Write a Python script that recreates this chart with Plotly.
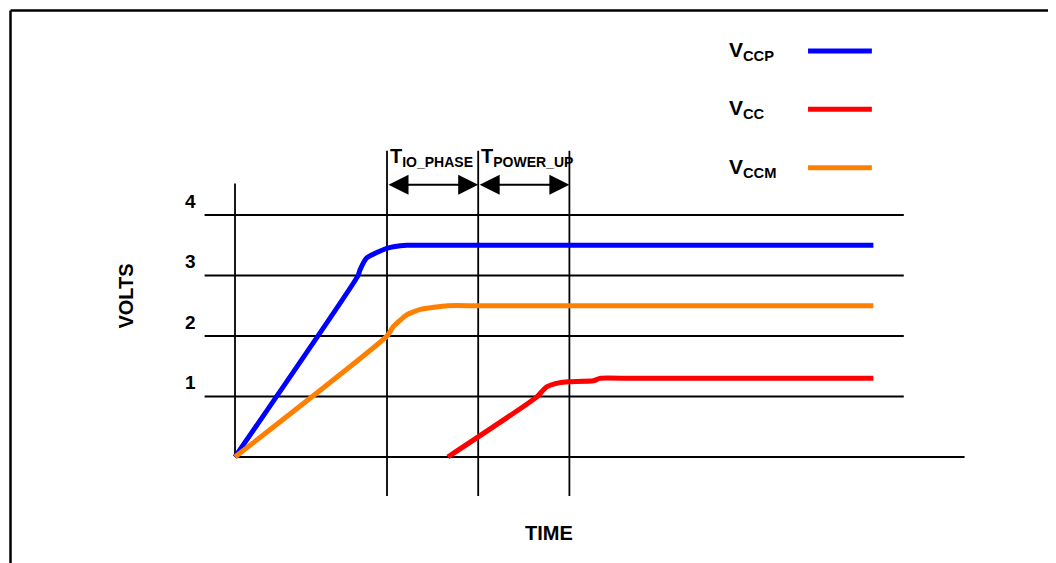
'''
    Power-up sequence chart: VCCP, VCC and VCCM rails against time.
'''
import plotly.graph_objects as go

# time is in arbitrary units, voltage in volts
vccp_t = [0, 4.05, 4.11, 4.33, 4.99, 5.65, 6.5, 21]
vccp_v = [0, 3.0, 3.09, 3.29, 3.45, 3.5, 3.5, 3.5]

vccm_t = [0, 5.0, 5.2, 5.65, 6.1, 7.0, 8.0, 21]
vccm_v = [0, 2.0, 2.15, 2.35, 2.44, 2.5, 2.5, 2.5]

vcc_t = [7.0, 9.92, 10.25, 10.69, 10.96, 11.79, 12.0, 13.0, 21]
vcc_v = [0, 0.99, 1.16, 1.23, 1.245, 1.26, 1.3, 1.3, 1.3]

volt_ticks = [1, 2, 3, 4]
phase_bounds = [5, 8, 11]
phase_labels = ['IO_PHASE', 'POWER_UP']

legend_names = ['CCP', 'CC', 'CCM']
legend_colors = ['#0000FF', '#FF0000', '#FF8000']
legend_levels = [6.71, 5.75, 4.78]

FONT = 'Liberation Sans, Arial, sans-serif'
BLACK = '#000000'

# the page puts the figure 8px in from the window corner
OFF = 8
PX_T = 30.4    # pixels per time unit
PX_V = 60.5    # pixels per volt
T0_PX = 235    # window x of t = 0
V0_PX = 457    # window y of v = 0

fig = go.Figure()

# the rails
for t, v, color in [(vccp_t, vccp_v, legend_colors[0]),
                    (vcc_t, vcc_v, legend_colors[1]),
                    (vccm_t, vccm_v, legend_colors[2])]:
    fig.add_trace(go.Scatter(
        x=t, y=v, mode='lines',
        line=dict(color=color, width=5, shape='spline', smoothing=0.5),
        hoverinfo='skip',
    ))

# legend lines drawn by hand (text left, line right)
for name, color, level in zip(legend_names, legend_colors, legend_levels):
    fig.add_trace(go.Scatter(
        x=[18.85, 20.95], y=[level, level], mode='lines',
        line=dict(color=color, width=5),
        hoverinfo='skip',
    ))
    fig.add_annotation(
        x=16.2, y=level, xanchor='left', yanchor='middle',
        text='<b>V<sub>' + name + '</sub></b>',
        showarrow=False, font=dict(family=FONT, size=21, color=BLACK),
    )

# grid lines for each volt level, plus the zero line
for v in volt_ticks:
    fig.add_shape(type='line', x0=-1, x1=22, y0=v, y1=v, layer='below',
                  line=dict(color=BLACK, width=1.8))
    fig.add_annotation(
        x=-1.46, y=v + 0.23, text='<b>' + str(v) + '</b>', showarrow=False,
        font=dict(family=FONT, size=19, color=BLACK),
    )
fig.add_shape(type='line', x0=0, x1=24, y0=0, y1=0, layer='below',
              line=dict(color=BLACK, width=1.8))
fig.add_shape(type='line', x0=0, x1=0, y0=0, y1=4.52, layer='below',
              line=dict(color=BLACK, width=1.8))

# phase boundaries
for t in phase_bounds:
    fig.add_shape(type='line', x0=t, x1=t, y0=-0.645, y1=5.06, layer='below',
                  line=dict(color=BLACK, width=1.8))

# double arrows and labels for each phase
for start, end, label in zip(phase_bounds[:-1], phase_bounds[1:], phase_labels):
    fig.add_annotation(
        x=end, y=4.5, ax=start, ay=4.5, axref='x', ayref='y',
        text='', showarrow=True, arrowside='end+start',
        arrowhead=2, arrowsize=2, arrowwidth=2, arrowcolor=BLACK,
        standoff=0, startstandoff=0,
    )
    fig.add_annotation(
        x=start + 0.02, y=4.95, xanchor='left', yanchor='middle',
        text='<b>T<sub>' + label + '</sub></b>', showarrow=False,
        font=dict(family=FONT, size=20, color=BLACK),
    )

# axis titles
fig.add_annotation(x=-3.57, y=2.66, text='<b>VOLTS</b>', textangle=-90,
                   showarrow=False, font=dict(family=FONT, size=20, color=BLACK))
fig.add_annotation(x=10.33, y=-1.25, text='<b>TIME</b>',
                   showarrow=False, font=dict(family=FONT, size=20, color=BLACK))

# frame at top and left (window pixel 10.5)
edge_x = (10.5 - OFF) / 1056
edge_y = 1 - (10.5 - OFF) / 563
fig.add_shape(type='line', xref='paper', yref='paper',
              x0=edge_x, x1=1, y0=edge_y, y1=edge_y,
              line=dict(color=BLACK, width=2.5))
fig.add_shape(type='line', xref='paper', yref='paper',
              x0=edge_x, x1=edge_x, y0=0, y1=edge_y,
              line=dict(color=BLACK, width=2.5))

fig.update_xaxes(range=[(OFF - T0_PX) / PX_T, (OFF + 1056 - T0_PX) / PX_T],
                 visible=False)
fig.update_yaxes(range=[(V0_PX - OFF - 563) / PX_V, (V0_PX - OFF) / PX_V],
                 visible=False)

fig.update_layout(
    width=1056, height=563,
    margin=dict(l=0, r=0, t=0, b=0),
    paper_bgcolor='white', plot_bgcolor='white',
    showlegend=False,
    dragmode=False,
)

fig.write_html('out.html')
